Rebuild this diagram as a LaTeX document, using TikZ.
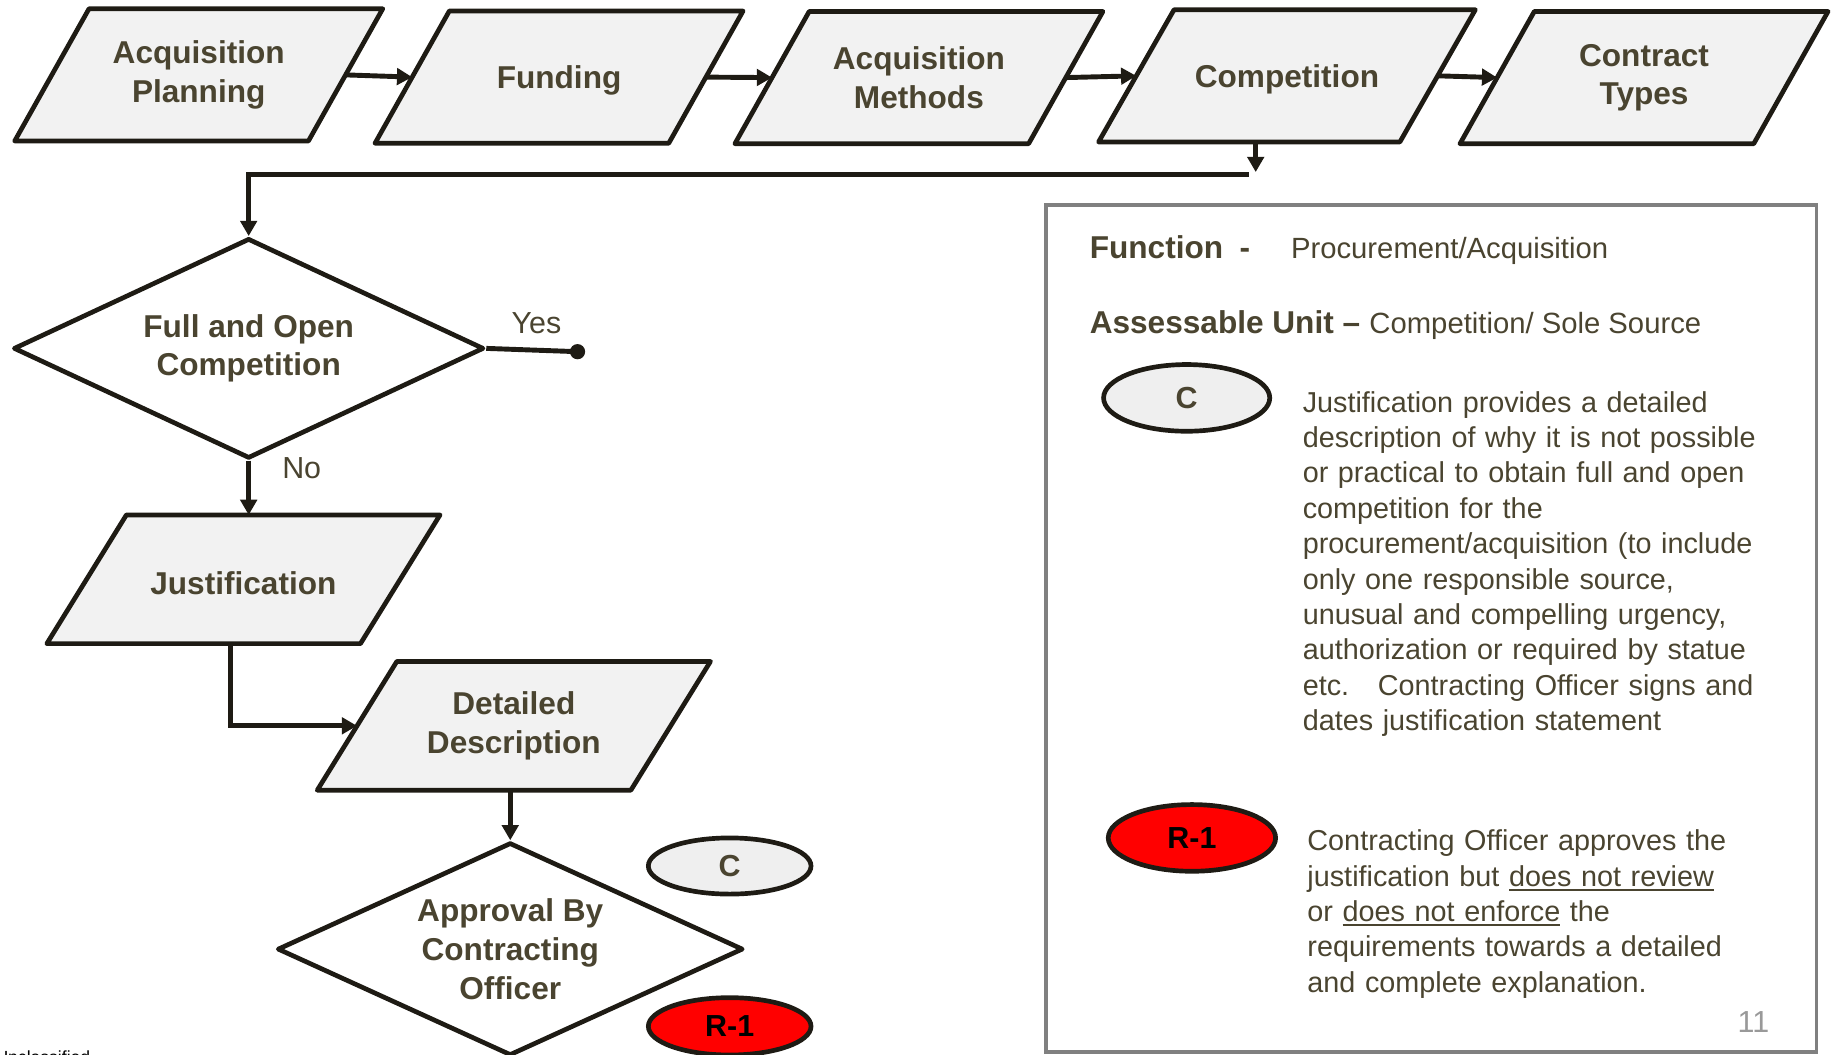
\documentclass[tikz,border=0pt]{standalone}
\usepackage{fontspec}
\setmainfont{Liberation Sans}
\usetikzlibrary{shapes.geometric,arrows.meta}

\definecolor{ink}{HTML}{4A4430}
\definecolor{edge}{HTML}{1E1B14}
\definecolor{boxfill}{HTML}{F2F2F2}
\definecolor{tagfill}{HTML}{EFEFEF}
\definecolor{framegray}{HTML}{808080}
\definecolor{pagegray}{HTML}{999999}

\newcommand\flowfont{\bfseries\fontsize{27}{33}\selectfont}
\newcommand\notefont{\fontsize{24.6}{30.2}\selectfont}
\newcommand\headboldfont{\bfseries\fontsize{27}{32}\selectfont}
\newcommand\headfont{\fontsize{25}{30}\selectfont}
\newcommand\labelfont{\fontsize{26}{30}\selectfont}
\newcommand\tagfont{\bfseries\fontsize{26}{30}\selectfont}
% underline with a firmer rule than \underline gives
\newcommand\markunder[1]{\leavevmode\setbox0\hbox{#1}\rlap{\rule[-4pt]{\wd0}{1.6pt}}\box0\relax}
% taller first line, so the block of text sits a little lower in its shape
\newcommand\dropfirst{\rule{0pt}{26pt}}
\newcommand\droptwo{\rule{0pt}{33pt}}

% Parallelogram node: a rectangle whose top edge is pushed right and bottom
% edge pushed left by \slanthalf, so east/west sit on the slanted sides.
\makeatletter
\newdimen\sbLeft \newdimen\sbRight \newdimen\sbBottom \newdimen\sbTop \newdimen\sbShift
\def\slanthalf{30pt}
\pgfdeclareshape{slantbox}{%
  \inheritsavedanchors[from=rectangle]%
  \inheritanchorborder[from=rectangle]%
  \inheritanchor[from=rectangle]{center}%
  \inheritanchor[from=rectangle]{north}%
  \inheritanchor[from=rectangle]{south}%
  \inheritanchor[from=rectangle]{east}%
  \inheritanchor[from=rectangle]{west}%
  \inheritanchor[from=rectangle]{text}%
  \inheritanchor[from=rectangle]{base}%
  \inheritanchor[from=rectangle]{mid}%
  \backgroundpath{%
    \southwest \sbLeft=\pgf@x \sbBottom=\pgf@y
    \northeast \sbRight=\pgf@x \sbTop=\pgf@y
    \pgfmathsetlength\sbShift{\slanthalf}%
    \pgfpathmoveto{\pgfpoint{\sbLeft-\sbShift}{\sbBottom}}%
    \pgfpathlineto{\pgfpoint{\sbRight-\sbShift}{\sbBottom}}%
    \pgfpathlineto{\pgfpoint{\sbRight+\sbShift}{\sbTop}}%
    \pgfpathlineto{\pgfpoint{\sbLeft+\sbShift}{\sbTop}}%
    \pgfpathclose
  }%
}
\makeatother

\begin{document}
\begin{tikzpicture}[x=1pt,y=-1pt,
  half slant/.code={\def\slanthalf{#1}},
  para/.style={shape=slantbox, draw=edge, fill=boxfill, outer sep=0pt,
    line width=4pt, line join=round, text=ink, font=\flowfont, align=center, inner sep=0pt,
    execute at begin node=\dropfirst},
  twolines/.style={execute at begin node=\droptwo},
  toprow/.style={para, half slant=31.75pt, minimum width=251pt, minimum height=113pt},
  lowrow/.style={para, half slant=34pt, minimum width=268pt, minimum height=110pt},
  decision/.style={diamond, draw=edge, fill=white, line width=4pt, line join=round,
    text=ink, font=\flowfont, align=center, inner sep=0pt},
  tag/.style={ellipse, draw=edge, line width=4pt, font=\tagfont, inner sep=0pt},
  link/.style={draw=edge, line width=4.2pt},
  arr/.style={link, -{Triangle[length=13pt,width=14pt]}},
  label/.style={text=ink, font=\labelfont, anchor=base west, inner sep=0pt},
  note/.style={text=ink, font=\notefont, align=left, inner sep=0pt, anchor=base west, text width=430pt},
]
\useasboundingbox (0,0) rectangle (1568,901);

% process chain along the top
\node[toprow, twolines] (plan) at (169.8,64) {Acquisition\\Planning};
\node[toprow] (fund) at (477.7,65.9) {Funding};
\node[toprow, twolines] (meth) at (785.2,66.3) {Acquisition\\Methods};
\node[toprow, half slant=32.25pt, minimum width=257.5pt] (comp) at (1099.7,64.8) {Competition};
\node[toprow, twolines] (ctype) at (1404.8,66.3) {Contract\\Types};

\draw[arr] (plan.east) -- (fund.west);
\draw[arr] (fund.east) -- (meth.west);
\draw[arr] (meth.east) -- (comp.west);
\draw[arr] (comp.east) -- (ctype.west);

% competition branch
\coordinate (drop) at (1073,147);
\coordinate (bend) at (1067,149);
\draw[arr] (comp.south -| drop) -- (drop);

\node[decision, twolines, aspect=2.14, minimum width=402pt, minimum height=188pt] (open) at (212.5,297.7) {Full and Open\\Competition};
\draw[arr] (bend) -| (open.north);

\node[circle, fill=edge, minimum size=13pt, inner sep=0pt] (yesend) at (493.5,300.5) {};
\draw[link] (open.east) -- (yesend.center);
\node[label] (yes) at (437,285) {Yes};
\node[label] (no) at (241,409) {No};

\node[lowrow] (just) at (208,495) {Justification};
\draw[arr] (open.south) -- (open.south |- just.north);

\node[lowrow, twolines] (detail) at (439.1,620.2) {Detailed\\Description};
\draw[arr] ([xshift=-10.7pt]just.south) |- (detail.west);

\node[decision, aspect=2.19, minimum width=398pt, minimum height=182pt] (approve) at (436,811) {Approval By\\Contracting\\Officer};
\draw[arr] (detail.south -| approve.north) -- (approve.north);

\node[tag, fill=tagfill, text=ink, minimum width=139pt, minimum height=48pt] (cmark) at (623.5,740) {C};
\node[tag, fill=red, text=black, minimum width=139pt, minimum height=49pt] (rmark) at (623.5,877) {R-1};

\node[anchor=base west, inner sep=0pt, font=\fontsize{15}{18}\selectfont] (classmark) at (-4,909) {Unclassified};

% legend panel
\node[draw=framegray, line width=3pt, minimum width=658pt, minimum height=724pt, inner sep=0pt] (legend) at (1223,537) {};

\node[text=ink, font=\headboldfont, anchor=base west, inner sep=0pt] (fnlabel) at (931,221) {Function\hspace{14pt}-};
\node[text=ink, font=\headfont, anchor=base west, inner sep=0pt] (fnvalue) at (1103,221) {Procurement/Acquisition};
\node[text=ink, font=\headboldfont, anchor=base west, inner sep=0pt] (unitlabel) at (931,285) {Assessable Unit –};
\node[text=ink, font=\headfont, anchor=base west, inner sep=0pt] (unitvalue) at (1170,285) {Competition/ Sole Source};

\node[tag, fill=tagfill, text=ink, minimum width=142pt, minimum height=57pt] (ckey) at (1014,340) {C};
\node[note] (cnote) at (1113,352.3) {Justification provides a detailed\\
description of why it is not possible\\
or practical to obtain full and open\\
competition for the\\
procurement/acquisition (to include\\
only one responsible source,\\
unusual and compelling urgency,\\
authorization or required by statue\\
etc.\ \ \ Contracting Officer signs and\\
dates justification statement};

\node[tag, fill=red, text=black, minimum width=143pt, minimum height=57pt] (rkey) at (1018.5,716) {R-1};
\node[note] (rnote) at (1117,727) {Contracting Officer approves the\\
justification but \markunder{does not review}\\
or \markunder{does not enforce} the\\
requirements towards a detailed\\
and complete explanation.};

\node[text=pagegray, font=\fontsize{26}{30}\selectfont, anchor=base east, inner sep=0pt] (pagenum) at (1512,882) {11};
\end{tikzpicture}
\end{document}
